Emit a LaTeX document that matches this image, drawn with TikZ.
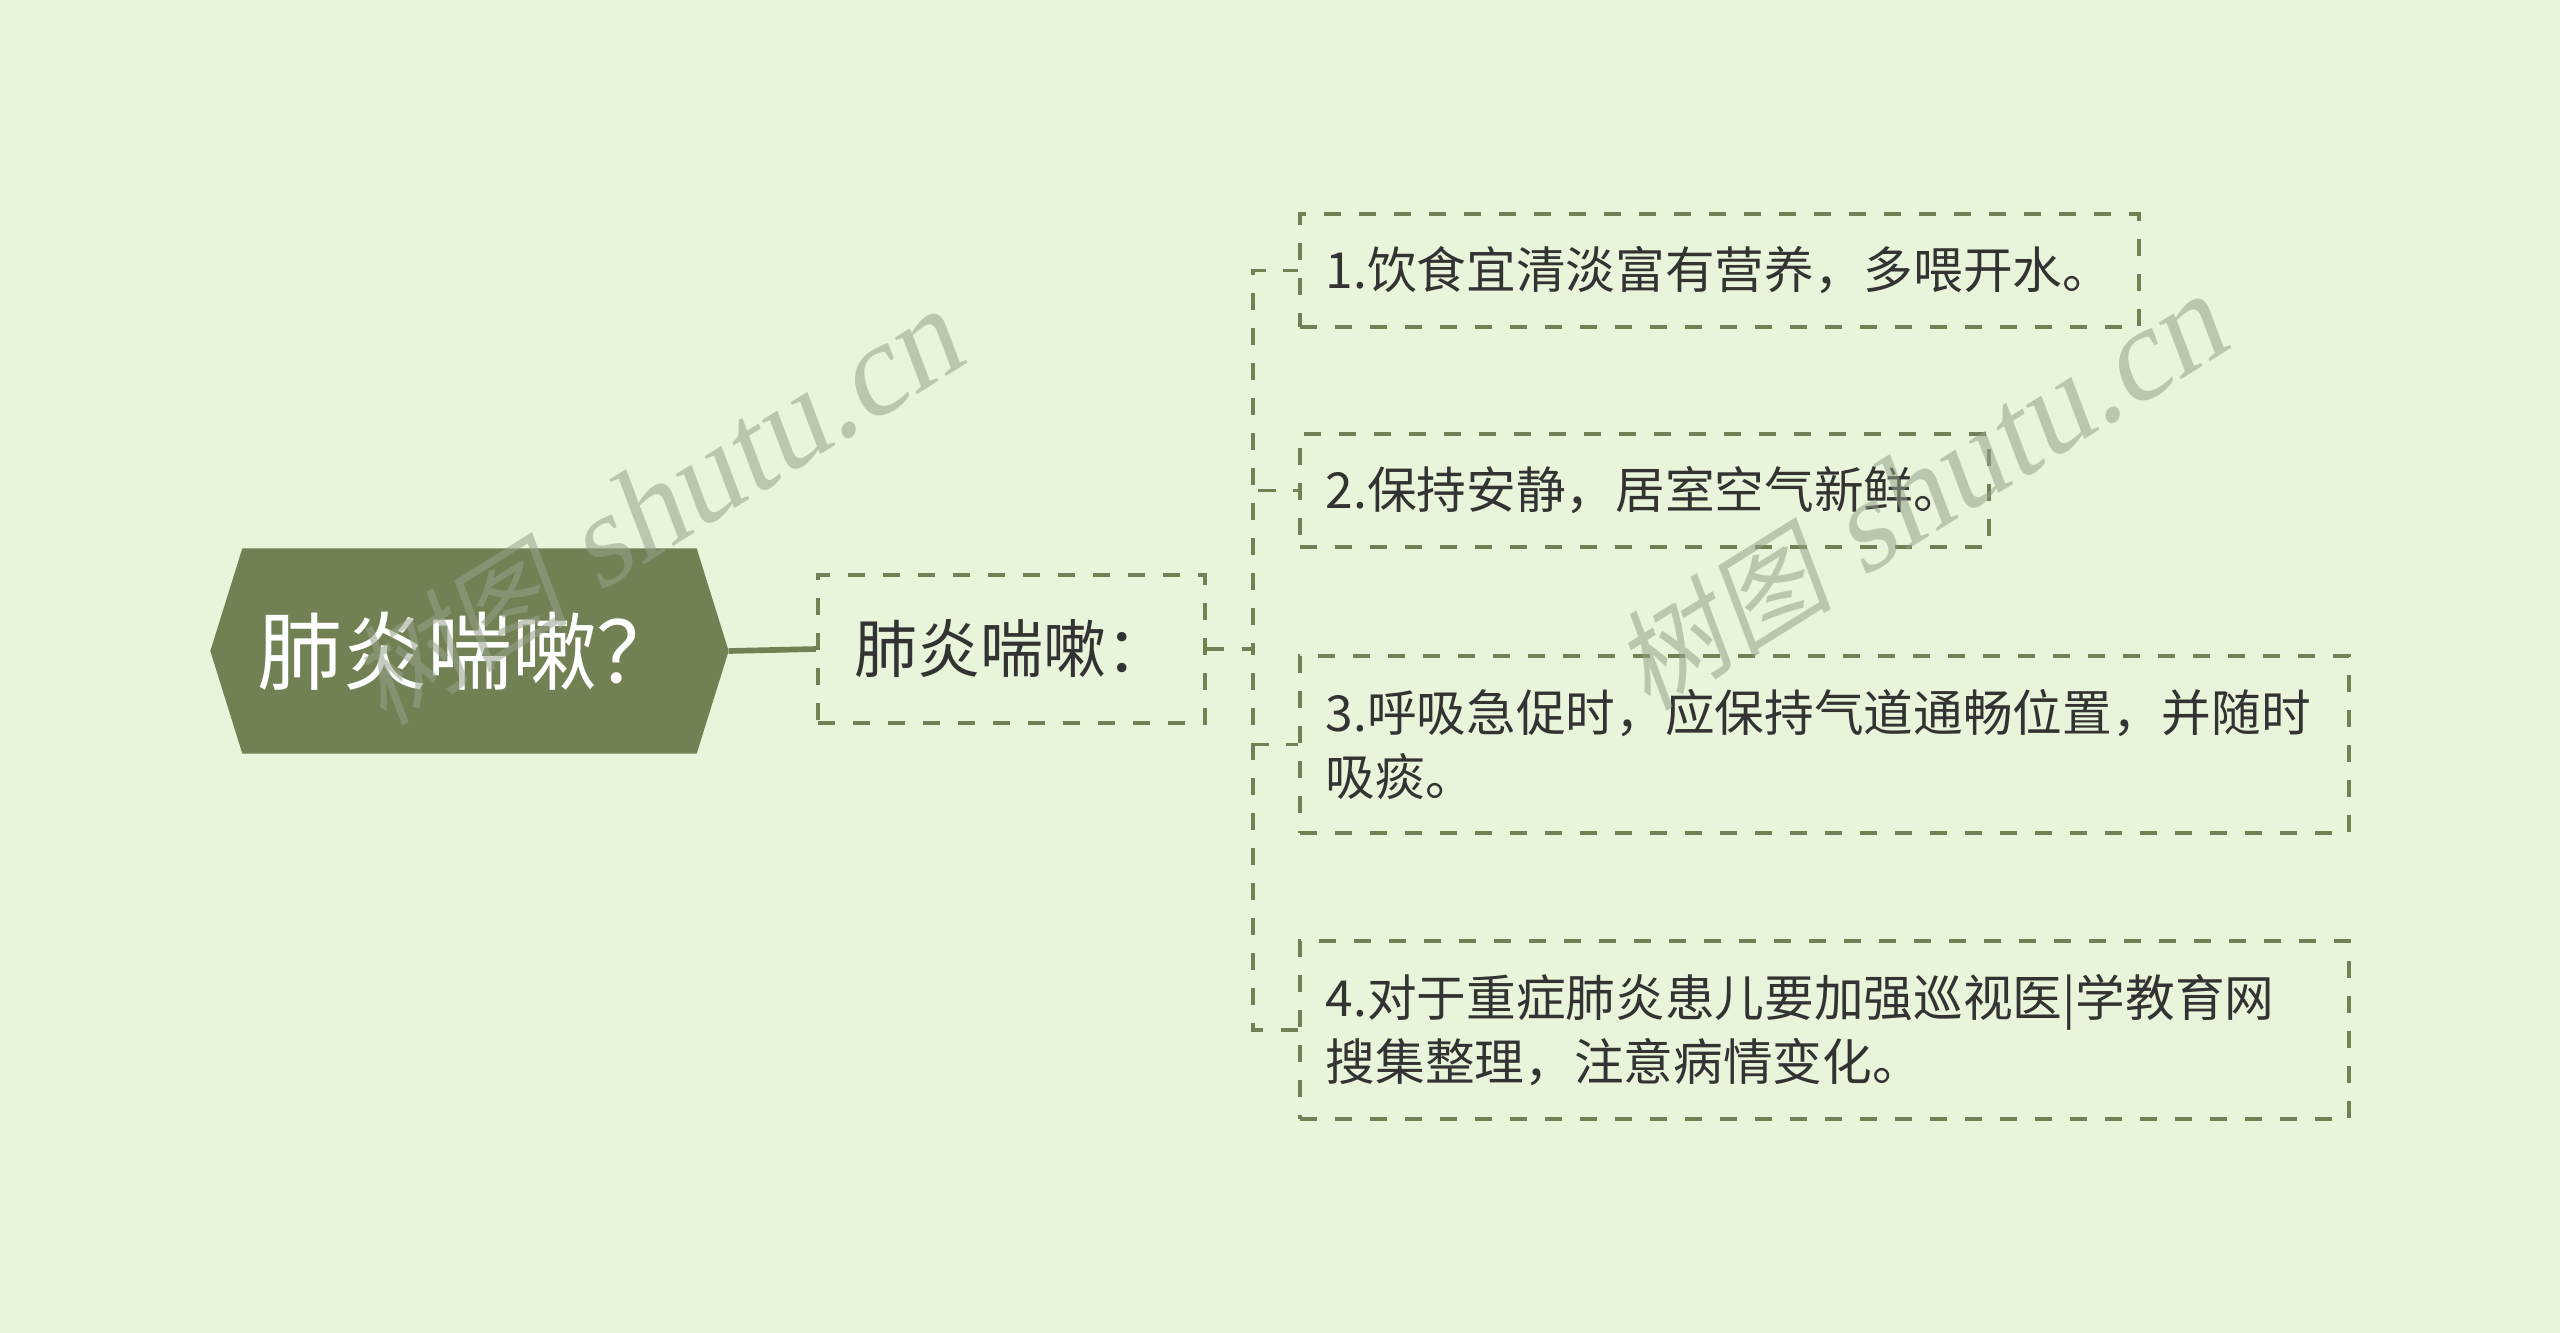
\documentclass[tikz,border=0pt]{standalone}
\usepackage{fontspec}
\setmainfont{Noto Sans CJK SC}
\newfontfamily\wmlatin{Liberation Serif}
\usetikzlibrary{backgrounds}
\definecolor{bgc}{HTML}{E8F5DA}
\definecolor{olive}{HTML}{718154}
\definecolor{txt}{HTML}{333333}
\definecolor{wmc}{RGB}{150,162,140}
\begin{document}
\begin{tikzpicture}[x=0.3pt,y=-0.3pt,
  dashline/.style={draw=olive,line width=1.1pt,dash pattern=on 5.2pt off 5.3pt},
  rootnode/.style={inner sep=0pt,minimum width=155.1pt,minimum height=61.2pt,text=white,font=\fontsize{25.5pt}{30pt}\selectfont},
  childbox/.style={dashline,inner sep=0pt,minimum width=116.1pt,minimum height=44.4pt,text=txt,font=\fontsize{18.9pt}{24pt}\selectfont},
  itembox/.style={dashline,anchor=west,align=left,inner xsep=7.8pt,inner ysep=0pt,text=txt,font=\fontsize{14.9pt}{19.4pt}\selectfont},
  wmark/.style={text=wmc,text opacity=0.55,inner sep=0pt,transform shape}]
\useasboundingbox (0,0) rectangle (2560,1333);
\begin{scope}[on background layer]
  \fill[bgc] (0,0) rectangle (2560,1333);
\end{scope}
% root
\node[rootnode] (root) at (469.5,651) {肺炎喘嗽？};
\begin{scope}[on background layer]
  \fill[olive] (root.west) -- ([xshift=9.6pt]root.north west) -- ([xshift=-9.6pt]root.north east)
    -- (root.east) -- ([xshift=-9.6pt]root.south east) -- ([xshift=9.6pt]root.south west) -- cycle;
\end{scope}
% child
\node[childbox] (child) at (1011.5,649) {肺炎喘嗽：};
% items
\node[itembox,minimum width=251.7pt,minimum height=33.9pt,text width=236.1pt] (i1) at (1298,270.5) {1.饮食宜清淡富有营养，多喂开水。};
\node[itembox,minimum width=206.7pt,minimum height=33.9pt,text width=191.1pt] (i2) at (1298,490.5) {2.保持安静，居室空气新鲜。};
\node[itembox,minimum width=314.7pt,minimum height=53.1pt,text width=299.1pt] (i3) at (1298,744.5) {3.呼吸急促时，应保持气道通畅位置，并随时\\吸痰。};
\node[itembox,minimum width=314.7pt,minimum height=53.4pt,text width=299.1pt] (i4) at (1298,1030) {4.对于重症肺炎患儿要加强巡视医|学教育网\\搜集整理，注意病情变化。};
% connectors
\draw[olive,line width=1.7pt] (root.east) -- (child.west);
\foreach \n in {i1,i2,i3,i4}
  \draw[dashline] (child.east) -- ++(46,0) |- (\n.west);
% watermark
\begin{scope}[shift={(662,505)},rotate=32,xslant=0.2]
  \node[wmark] (wm1) at (0,0) {\fontsize{33pt}{33pt}\selectfont 树图\wmlatin\fontsize{39pt}{39pt}\selectfont\ shutu.cn};
\end{scope}
\begin{scope}[shift={(1926,490)},rotate=32,xslant=0.2]
  \node[wmark] (wm2) at (0,0) {\fontsize{33pt}{33pt}\selectfont 树图\wmlatin\fontsize{39pt}{39pt}\selectfont\ shutu.cn};
\end{scope}
\end{tikzpicture}
\end{document}
